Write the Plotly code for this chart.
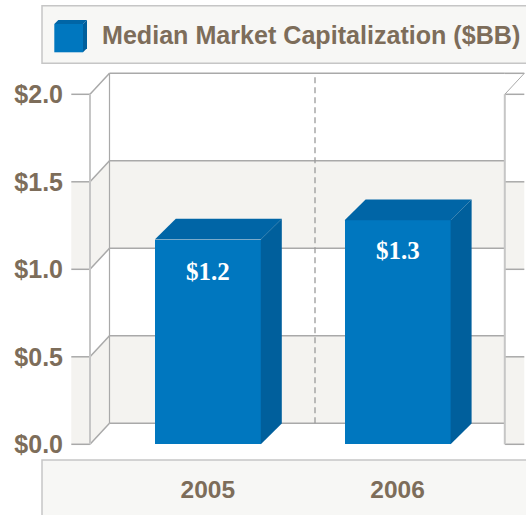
import plotly.graph_objects as go

# ---- data ----
years = [2005, 2006]
median_cap = [1.17, 1.28]
bar_labels = ["$1.2", "$1.3"]
y_ticks = [0.0, 0.5, 1.0, 1.5, 2.0]
y_tick_labels = ["$0.0", "$0.5", "$1.0", "$1.5", "$2.0"]
shaded_bands = [(0.0, 0.5), (1.0, 1.5)]
title_text = "Median Market Capitalization ($BB)"

# ---- geometry / style ----
W, H = 526, 515
L, B_PX = 71, 450             # plot-area left edge, bottom edge in pixels
X0_PX, X_SCALE = 207.8, 189.8 # pixel of first year, pixels per year
Y0_PX, Y_SCALE = 444.3, 175   # pixel of value 0, pixels per unit
BROWN = "#7d6d5a"
BAND = "#f4f3f0"
PANEL = "#f7f7f5"
LINE = "#a9a9a9"
LINE_LIGHT = "#c6c6c6"
FRONT = "#0077bf"
TOP = "#0065a6"
SIDE = "#005f9c"
label_shifts = [-32, -30]


def dx(px):
    return px / X_SCALE


def dy(px):
    return px / Y_SCALE


def xdata(px):
    return years[0] + (px - X0_PX) / X_SCALE


def xp(px):
    return (px - L) / (W - L)


def yp(py):
    return (B_PX - py) / B_PX


bar_w = 106 / X_SCALE
bar_depth_x, bar_depth_y = dx(21), dy(20.8)
wall_dx, wall_dy = dx(19.5), dy(21)
wall_l = xdata(90)
wall_r = xdata(504.8)
stub_l = xdata(71.3)
y_top = y_ticks[-1]

shapes = []


def poly(points, fill):
    path = "M" + " L".join(f"{x},{y}" for x, y in points) + " Z"
    shapes.append(dict(type="path", path=path, xref="x", yref="y", fillcolor=fill,
                       line=dict(width=0), layer="below"))


def seg(x1, y1, x2, y2, color=LINE, width=1.5, dash="solid"):
    shapes.append(dict(type="line", xref="x", yref="y", x0=x1, y0=y1, x1=x2, y1=y2,
                       line=dict(color=color, width=width, dash=dash), layer="below"))


def paper_rect(x0, y0, x1, y1, fill, line):
    shapes.append(dict(type="rect", xref="paper", yref="paper",
                       x0=xp(x0), x1=xp(x1), y0=yp(y0), y1=yp(y1), fillcolor=fill,
                       line=dict(color=line, width=1.5), layer="below"))


# panels behind the title and the category labels
paper_rect(42, 5.7, W + 4, 63.3, PANEL, LINE_LIGHT)
paper_rect(42, 460, W + 4, H + 4, PANEL, LINE_LIGHT)

# shaded bands: front stub, side wall, back wall, right stub
for lo, hi in shaded_bands:
    poly([(stub_l, lo), (wall_l, lo), (wall_l, hi), (stub_l, hi)], BAND)
    poly([(wall_l, lo), (wall_l + wall_dx, lo + wall_dy),
          (wall_l + wall_dx, hi + wall_dy), (wall_l, hi)], BAND)
    poly([(wall_l + wall_dx, lo + wall_dy), (wall_r, lo + wall_dy),
          (wall_r, hi + wall_dy), (wall_l + wall_dx, hi + wall_dy)], BAND)
    poly([(wall_r, lo), (wall_r + wall_dx, lo), (wall_r + wall_dx, hi), (wall_r, hi)], BAND)

# gridlines on every tick
for t in y_ticks:
    seg(stub_l, t, wall_l, t)
    seg(wall_l, t, wall_l + wall_dx, t + wall_dy)
    seg(wall_l + wall_dx, t + wall_dy, wall_r, t + wall_dy)
    seg(wall_r, t, wall_r + wall_dx, t)
seg(wall_r, y_top, wall_r + wall_dx, y_top + wall_dy, width=1)
seg(wall_r, y_top + wall_dy, wall_r + wall_dx, y_top + wall_dy)

# wall verticals and the dashed year divider
seg(wall_l, 0, wall_l, y_top, color=LINE_LIGHT, width=2)
seg(wall_l + wall_dx, wall_dy, wall_l + wall_dx, y_top + wall_dy, width=1.2)
seg(wall_r, 0, wall_r, y_top, color=LINE_LIGHT, width=2)
mid = sum(years) / 2 + dx(12.3)
seg(mid, wall_dy, mid, y_top + wall_dy, color="#9a9a9a", width=1.3, dash="6px,4px")

# legend swatch: a small cube
sw_l, sw_r, sw_t, sw_b, sw_d = 54.3, 83, 24, 52.3, 4
for pts, fill in [
    ([(sw_l, sw_t), (sw_l + sw_d, sw_t - sw_d), (sw_r + sw_d, sw_t - sw_d), (sw_r, sw_t)], TOP),
    ([(sw_r, sw_t), (sw_r + sw_d, sw_t - sw_d), (sw_r + sw_d, sw_b - sw_d), (sw_r, sw_b)], SIDE),
    ([(sw_l, sw_t), (sw_r, sw_t), (sw_r, sw_b), (sw_l, sw_b)], FRONT),
]:
    path = "M" + " L".join(f"{xp(a)},{yp(b)}" for a, b in pts) + " Z"
    shapes.append(dict(type="path", path=path, xref="paper", yref="paper", fillcolor=fill,
                       line=dict(width=0), layer="above"))

fig = go.Figure()

# front faces
fig.add_trace(go.Bar(x=years, y=median_cap, width=bar_w, name="Median Market Capitalization ($BB)",
                     marker=dict(color=FRONT, line=dict(width=0)), hoverinfo="x+y",
                     showlegend=False))

# top and side faces derived from the bar values
for year, v in zip(years, median_cap):
    l, r = year - bar_w / 2, year + bar_w / 2
    fig.add_trace(go.Scatter(
        x=[l, l + bar_depth_x, r + bar_depth_x, r, l],
        y=[v, v + bar_depth_y, v + bar_depth_y, v, v],
        mode="lines", fill="toself", fillcolor=TOP, line=dict(width=0),
        hoverinfo="skip", showlegend=False))
    fig.add_trace(go.Scatter(
        x=[r, r + bar_depth_x, r + bar_depth_x, r, r],
        y=[0, bar_depth_y, v + bar_depth_y, v, 0],
        mode="lines", fill="toself", fillcolor=SIDE, line=dict(width=0),
        hoverinfo="skip", showlegend=False))

annotations = [
    dict(x=year, y=v, text=label, xref="x", yref="y", showarrow=False, yshift=shift,
         font=dict(family="Liberation Serif", size=25, color="white", weight="bold"))
    for year, v, label, shift in zip(years, median_cap, bar_labels, label_shifts)
]

fig.update_layout(
    width=W, height=H,
    margin=dict(l=L, r=0, t=0, b=H - B_PX, pad=0),
    paper_bgcolor="white", plot_bgcolor="rgba(0,0,0,0)",
    showlegend=False, bargap=0,
    title=dict(text=title_text, x=102 / W, xanchor="left", xref="container",
               y=1 - 35.5 / H, yanchor="middle", yref="container",
               font=dict(family="Liberation Sans", size=25.1, color=BROWN, weight="bold"),
               pad=dict(l=0, r=0, t=0, b=0)),
    xaxis=dict(range=[xdata(L), xdata(W)], tickmode="array", tickvals=years,
               ticktext=[str(y) for y in years], showgrid=False, zeroline=False,
               showline=False, ticks="", ticklabelstandoff=22,
               tickfont=dict(family="Liberation Sans", size=24.5, color=BROWN, weight="bold")),
    yaxis=dict(range=[(Y0_PX - B_PX) / Y_SCALE, Y0_PX / Y_SCALE], tickmode="array",
               tickvals=y_ticks, ticktext=y_tick_labels, showgrid=False, zeroline=False,
               showline=False, ticks="", ticklabelstandoff=7,
               tickfont=dict(family="Liberation Sans", size=25, color=BROWN, weight="bold")),
    shapes=shapes,
    annotations=annotations,
)

fig.write_html("out.html", config={"displayModeBar": False},
               post_script="document.body.style.margin='0';")
